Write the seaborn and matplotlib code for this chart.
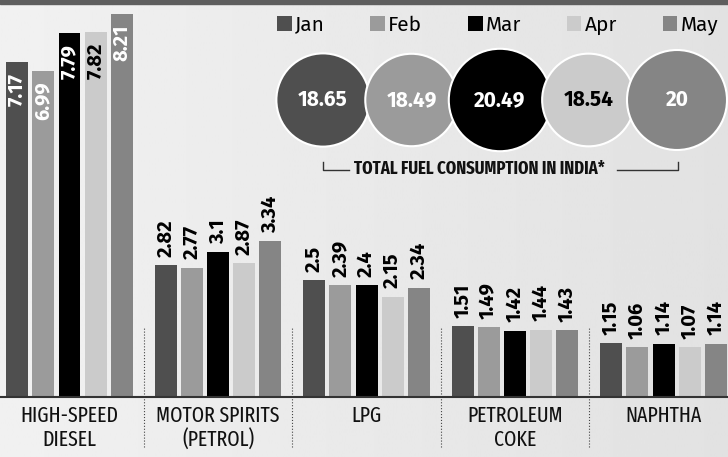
import numpy as np
import pandas as pd
import matplotlib
matplotlib.use("Agg")
import matplotlib.pyplot as plt
from matplotlib.patches import Circle, Rectangle
from matplotlib.lines import Line2D
import seaborn as sns

# data (million tonnes)
fuels = ["HIGH-SPEED\nDIESEL", "MOTOR SPIRITS\n(PETROL)", "LPG", "PETROLEUM\nCOKE", "NAPHTHA"]
months = ["Jan", "Feb", "Mar", "Apr", "May"]
jan = [7.17, 2.82, 2.5, 1.51, 1.15]
feb = [6.99, 2.77, 2.39, 1.49, 1.06]
mar = [7.79, 3.1, 2.4, 1.42, 1.14]
apr = [7.82, 2.87, 2.15, 1.44, 1.07]
may = [8.21, 3.34, 2.34, 1.43, 1.14]
totals = [18.65, 18.49, 20.49, 18.54, 20]
total_title = "TOTAL FUEL CONSUMPTION IN INDIA*"

colors = ["#4f4f4f", "#9b9b9b", "#000000", "#cbcbcb", "#858585"]
dark_text = ["Apr"]  # months whose labels are drawn black on the bar / circle

W, H = 728, 457
plt.rcParams["font.family"] = ["Fira Sans", "DejaVu Sans"]
cond = ["Fira Sans Extra Condensed", "DejaVu Sans"]


def fx(x):
  return x / W


def fy(y):
  return 1 - y / H


df = pd.DataFrame({
  "fuel": np.repeat(fuels, len(months)),
  "month": months * len(fuels),
  "value": np.column_stack([jan, feb, mar, apr, may]).ravel(),
})

fig = plt.figure(figsize=(W / 100, H / 100), dpi=100)

# background: light grey wash, a bit darker to the right, dark strip on top
bg = fig.add_axes([0, 0, 1, 1])
grad = np.linspace(0.945, 0.885, 256).reshape(1, -1)
bg.imshow(grad, cmap="gray", vmin=0, vmax=1, aspect="auto", extent=[0, 1, 0, 1])
bg.add_patch(Rectangle((0, fy(4)), 1, 1, color="#5e5e5e", transform=bg.transAxes))
bg.set_axis_off()

# main bar chart
base_y = 397
ax = fig.add_axes([0, fy(base_y), 1, base_y / H])
ax.patch.set_alpha(0)
sns.barplot(data=df, x="fuel", y="value", hue="month", palette=colors,
            saturation=1, width=0.88, gap=0.16, errorbar=None, ax=ax)
ax.set_xlim(-0.468, 4.434)
ax.set_ylim(0, 8.5)
sns.despine(ax=ax, left=True)
ax.spines["bottom"].set_color("#333333")
ax.spines["bottom"].set_linewidth(1.5)
ax.set_yticks([])
ax.set_xlabel("")
ax.set_ylabel("")
ax.tick_params(axis="x", length=0, pad=6)
ax.set_xticks(range(len(fuels)))
ax.set_xticklabels(fuels, fontsize=15.5, family=cond, color="#111111", linespacing=1.15)

# value labels: inside the top for diesel, above the bar for the rest
for month, cont in zip(months, ax.containers):
  for j, bar in enumerate(cont):
    xc = bar.get_x() + bar.get_width() / 2
    v = bar.get_height()
    if j == 0:
      col = "black" if month in dark_text else "white"
      ax.annotate(f"{v:g}", (xc, v), xytext=(0, -8), textcoords="offset points",
                  rotation=90, ha="center", va="top", fontsize=14.5,
                  fontweight="bold", color=col)
    else:
      ax.annotate(f"{v:g}", (xc, v), xytext=(0, 6), textcoords="offset points",
                  rotation=90, ha="center", va="bottom", fontsize=14.5,
                  fontweight="bold", color="black")

# dotted separators between fuel groups
ax.vlines(np.arange(len(fuels) - 1) + 0.5, -(447 - base_y) / base_y,
          (base_y - 327) / base_y, transform=ax.get_xaxis_transform(),
          colors="#444444", linestyles=":", linewidth=0.8, clip_on=False)

# legend across the top right
sns.move_legend(ax, "center left", bbox_to_anchor=(fx(277), fy(25)),
                bbox_transform=fig.transFigure, ncol=5, frameon=False,
                title=None, fontsize=15, handlelength=0.7, handleheight=0.7,
                handletextpad=0.15, columnspacing=2.2, borderaxespad=0,
                borderpad=0)

# bubbles with the monthly totals
spacing = 88.5
c0 = 323
cax = fig.add_axes([fx(c0 - spacing / 2), fy(160), 5 * spacing / W, 120 / H])
cax.set_xlim(-0.5, 4.5)
cax.set_ylim(-60 / spacing, 60 / spacing)
cax.set_axis_off()
for i, (m, t) in enumerate(zip(months, totals)):
  r = t * 2.5 / spacing
  cax.add_patch(Circle((i, 0), r, facecolor=colors[i], edgecolor="white",
                       linewidth=1.5, zorder=2 + 2 * i, clip_on=False))
  cax.text(i, 0, f"{t:g}", ha="center", va="center", fontsize=15,
           fontweight="bold", color="black" if m in dark_text else "white",
           zorder=3 + 2 * i)

# bracket caption under the bubbles
fig.text(fx(479), fy(169), total_title, ha="center", va="center",
         fontsize=13, fontweight="bold", family=cond, color="#111111")
for xs, ys in [([323, 323, 349], [162, 170, 170]), ([617, 678, 678], [170, 170, 162])]:
  fig.add_artist(Line2D([fx(x) for x in xs], [fy(y) for y in ys],
                        color="#333333", linewidth=1))

fig.savefig("out.png", dpi=100)
